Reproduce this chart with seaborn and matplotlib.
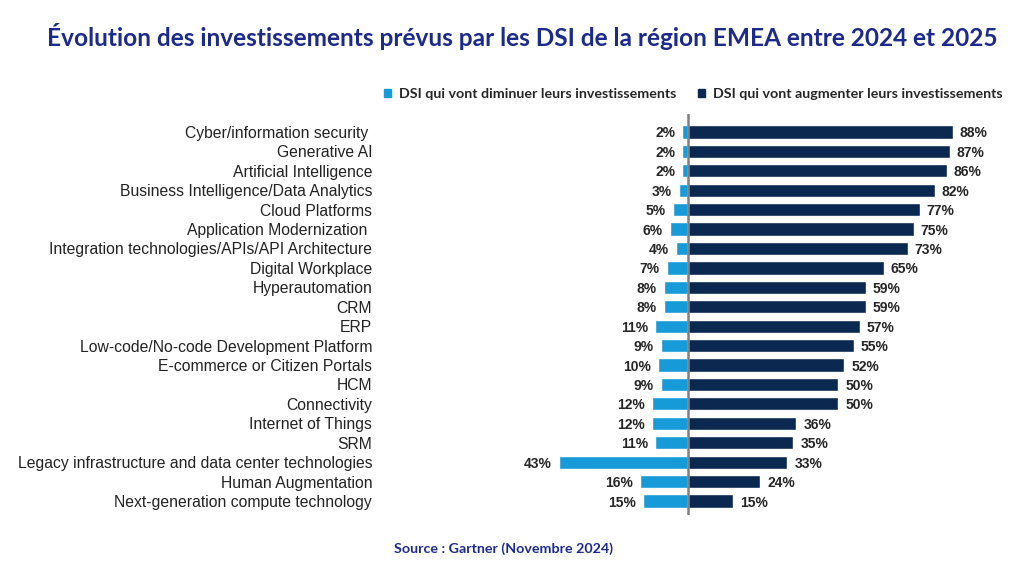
import matplotlib
matplotlib.use("Agg")
import matplotlib.pyplot as plt
import seaborn as sns
import pandas as pd
from matplotlib.patches import Patch

categories = [
    "Cyber/information security ", "Generative AI", "Artificial Intelligence",
    "Business Intelligence/Data Analytics", "Cloud Platforms", "Application Modernization ",
    "Integration technologies/APIs/API Architecture", "Digital Workplace", "Hyperautomation",
    "CRM", "ERP", "Low-code/No-code Development Platform", "E-commerce or Citizen Portals",
    "HCM", "Connectivity", "Internet of Things", "SRM",
    "Legacy infrastructure and data center technologies", "Human Augmentation",
    "Next-generation compute technology",
]
decrease = [2, 2, 2, 3, 5, 6, 4, 7, 8, 8, 11, 9, 10, 9, 12, 12, 11, 43, 16, 15]
increase = [88, 87, 86, 82, 77, 75, 73, 65, 59, 59, 57, 55, 52, 50, 50, 36, 35, 33, 24, 15]

label_dec = "DSI qui vont diminuer leurs investissements"
label_inc = "DSI qui vont augmenter leurs investissements"
title = "Évolution des investissements prévus par les DSI de la région EMEA entre 2024 et 2025"
source = "Source : Gartner (Novembre 2024)"

c_dec = "#169BD8"
c_inc = "#0B2850"
c_title = "#1C2A8C"

sns.set_theme(style="white")
plt.rcParams["font.family"] = ["Liberation Sans", "DejaVu Sans"]

df = pd.DataFrame({"cat": categories, "dec": [-v for v in decrease], "inc": increase})

fig = plt.figure(figsize=(10.24, 5.61), dpi=100)
ax = fig.add_axes([375 / 1024, 1 - 514.6 / 561, (1010 - 375) / 1024, (514.6 - 113.5) / 561])

sns.barplot(data=df, y="cat", x="dec", color=c_dec, orient="h", width=0.68, ax=ax, saturation=1)
sns.barplot(data=df, y="cat", x="inc", color=c_inc, orient="h", width=0.68, ax=ax, saturation=1)

ax.set_xlim(-104, 107)
ax.set_ylim(19.7, -0.95)
ax.axvline(0, color="#7f7f7f", lw=1.8, zorder=5)

for i, (d, u) in enumerate(zip(decrease, increase)):
    ax.annotate(f"{d}%", (-d, i), xytext=(-5, 0), textcoords="offset points", ha="right",
                va="center_baseline", fontsize=10, fontweight="bold", color="#262626")
    ax.annotate(f"{u}%", (u, i), xytext=(5, 0), textcoords="offset points", ha="left",
                va="center_baseline", fontsize=10, fontweight="bold", color="#262626")

ax.set_xlabel("")
ax.set_ylabel("")
ax.set_xticks([])
ax.tick_params(axis="y", length=0, pad=2, labelsize=11.3, labelcolor="#222222")
for s in ax.spines.values():
    s.set_visible(False)

handles = [Patch(color=c_dec, label=label_dec), Patch(color=c_inc, label=label_inc)]
leg = fig.legend(handles=handles, loc="center left", bbox_to_anchor=(378 / 1024, 1 - 94 / 561), ncol=2,
                 frameon=False, handlelength=0.5, handleheight=0.5, handletextpad=0.55, columnspacing=1.55,
                 prop={"family": ["Lato", "DejaVu Sans"], "weight": "bold", "size": 10.3}, borderaxespad=0)

fig.text(522 / 1024, 1 - 37 / 561, title, ha="center", va="center", fontsize=17.6, fontweight="bold",
         color=c_title, family=["Lato", "DejaVu Sans"])
fig.text(503 / 1024, 1 - 549 / 561, source, ha="center", va="center", fontsize=10.3, fontweight="bold",
         color=c_title, family=["Lato", "DejaVu Sans"])

fig.savefig("out.png", dpi=100)
